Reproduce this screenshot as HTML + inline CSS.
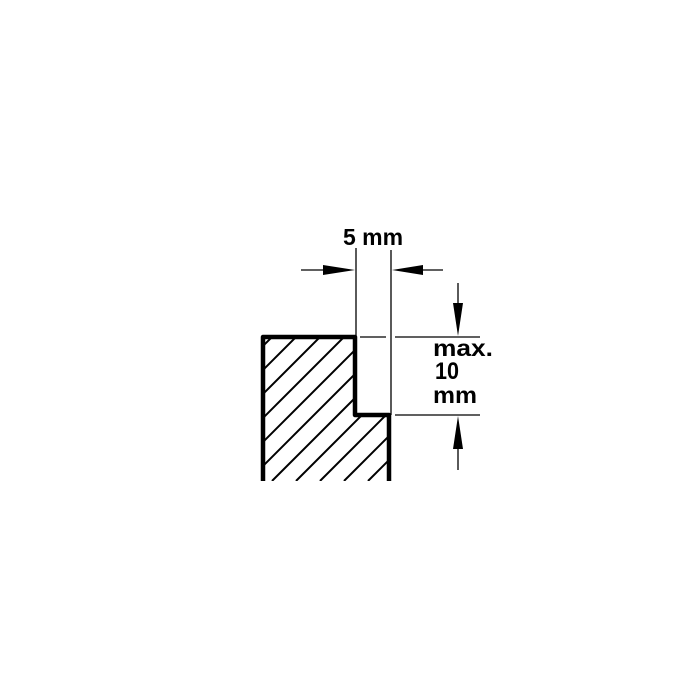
<!DOCTYPE html>
<html><head><style>body{margin:0;background:#fff}svg{display:block}</style></head>
<body>
<svg width="700" height="700" viewBox="0 0 700 700" xmlns="http://www.w3.org/2000/svg">
<defs>
<clipPath id="c"><polygon points="263,337 355,337 355,415 389,415 389,481 263,481"/></clipPath>
</defs>
<g clip-path="url(#c)" stroke="#000" stroke-width="2">
<line x1="200" y1="481" x2="350" y2="331"/>
<line x1="224" y1="481" x2="374" y2="331"/>
<line x1="248" y1="481" x2="398" y2="331"/>
<line x1="272" y1="481" x2="422" y2="331"/>
<line x1="296" y1="481" x2="446" y2="331"/>
<line x1="320" y1="481" x2="470" y2="331"/>
<line x1="344" y1="481" x2="494" y2="331"/>
<line x1="368" y1="481" x2="518" y2="331"/>
<line x1="176" y1="481" x2="326" y2="331"/>
<line x1="152" y1="481" x2="302" y2="331"/>
<line x1="128" y1="481" x2="278" y2="331"/>
</g>
<polyline points="263,481 263,337 355,337 355,415 389,415 389,481" fill="none" stroke="#000" stroke-width="4.5" stroke-linejoin="round"/>
<g stroke="#000" stroke-width="1.3">
<line x1="356" y1="248" x2="356" y2="337"/>
<line x1="391" y1="250" x2="391" y2="415"/>
<line x1="360" y1="337" x2="386" y2="337"/>
<line x1="395" y1="337" x2="480" y2="337"/>
<line x1="395" y1="415" x2="480" y2="415"/>
<line x1="301" y1="270" x2="330" y2="270"/>
<line x1="415" y1="270" x2="443" y2="270"/>
<line x1="458" y1="283" x2="458" y2="310"/>
<line x1="458" y1="440" x2="458" y2="470"/>
</g>
<g fill="#000">
<polygon points="323,265 355,270 323,275"/>
<polygon points="423,265 392,270 423,275"/>
<polygon points="453,303 458,336 463,303"/>
<polygon points="453,449 458,416 463,449"/>
</g>
<text x="373" y="245" font-family="Liberation Sans, sans-serif" font-weight="bold" font-size="23" text-anchor="middle">5 mm</text>
<text transform="translate(433,356) scale(1,1.2)" font-family="Liberation Sans, sans-serif" font-weight="bold" font-size="19" textLength="60" lengthAdjust="spacingAndGlyphs">max.</text>
<text transform="translate(435,379) scale(1,1.2)" font-family="Liberation Sans, sans-serif" font-weight="bold" font-size="20" textLength="24" lengthAdjust="spacingAndGlyphs">10</text>
<text transform="translate(433,403) scale(1,1.2)" font-family="Liberation Sans, sans-serif" font-weight="bold" font-size="19" textLength="44" lengthAdjust="spacingAndGlyphs">mm</text>
</svg>
</body></html>
